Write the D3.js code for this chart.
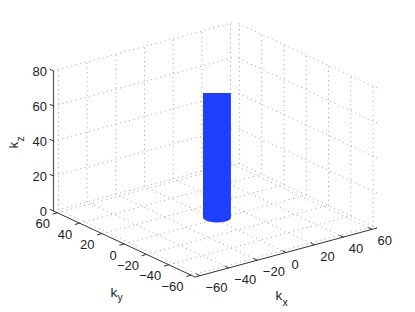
<!DOCTYPE html>
<html><head><meta charset="utf-8">
<script src="https://cdn.jsdelivr.net/npm/d3@7"></script>
<style>html,body{margin:0;padding:0;background:#fff}svg{display:block}</style>
</head><body><div id="c"></div>
<script>
const xTicks=[-60,-40,-20,0,20,40,60];
const yTicks=[-60,-40,-20,0,20,40,60];
const zTicks=[0,20,40,60,80];
const xDomain=[-63.5,63.5];
const yDomain=[-63.5,63.5];
const zDomain=[0,80];
const cylRadius=[7.7];
const cylCentre=[1.2,0];
const cylZ=[0.9,71.5];
const cylTopCut=[72];
const W=415,H=312;
const svg=d3.select('#c').append('svg').attr('width',W).attr('height',H);
// oblique projection: linear scales giving pixel offsets for each data axis
const xPx=d3.scaleLinear().domain(xDomain).range([0,182]);
const xPy=d3.scaleLinear().domain(xDomain).range([0,-49]);
const yPx=d3.scaleLinear().domain(yDomain).range([0,-141.5]);
const yPy=d3.scaleLinear().domain(yDomain).range([0,-66]);
const zPy=d3.scaleLinear().domain(zDomain).range([0,-140]);
const O=[195,277];
const px=(x,y)=>O[0]+xPx(x)+yPx(y);
const py=(x,y,z)=>O[1]+xPy(x)+yPy(y)+zPy(z);
const P=(x,y,z)=>[px(x,y),py(x,y,z)];
const [x0,x1]=xDomain,[y0,y1]=yDomain,[z0,z1]=zDomain;
const line=(g,a,b)=>g.append('line').attr('x1',a[0]).attr('y1',a[1]).attr('x2',b[0]).attr('y2',b[1]);
const grid=svg.append('g').attr('stroke','#8f8f8f').attr('stroke-width',0.85).attr('stroke-dasharray','1 3.6').attr('fill','none');
xTicks.forEach(t=>{line(grid,P(t,y1,z0),P(t,y1,z1));line(grid,P(t,y0,z0),P(t,y1,z0));});
yTicks.forEach(t=>{line(grid,P(x1,t,z0),P(x1,t,z1));line(grid,P(x0,t,z0),P(x1,t,z0));});
zTicks.forEach(t=>{line(grid,P(x0,y1,t),P(x1,y1,t));line(grid,P(x1,y0,t),P(x1,y1,t));});
// cylinder
const ang=d3.range(0,360,4).map(a=>a*Math.PI/180);
const r=cylRadius[0];
const ring=z=>ang.map(a=>P(cylCentre[0]+r*Math.cos(a),cylCentre[1]+r*Math.sin(a),z));
const hull=d3.polygonHull(ring(cylZ[0]).concat(ring(cylZ[1])));
const cut=py(cylCentre[0],cylCentre[1],cylTopCut[0]);
svg.append('clipPath').attr('id','cut').append('rect').attr('x',0).attr('y',cut).attr('width',W).attr('height',H-cut);
svg.append('path').attr('d','M'+hull.join('L')+'Z').attr('fill','#1f3fff').attr('clip-path','url(#cut)');
// axes
const ax=svg.append('g').attr('stroke','#333').attr('stroke-width',1).attr('fill','none');
line(ax,P(x0,y0,z0),P(x1,y0,z0));
line(ax,P(x0,y0,z0),P(x0,y1,z0));
line(ax,P(x0,y1,z0),P(x0,y1,z1)).attr('stroke','#555').attr('stroke-width',1.2);
const tl=3.4;
xTicks.forEach(t=>line(ax,P(t,y0,z0),P(t,y0+tl,z0)));
yTicks.forEach(t=>line(ax,P(x0,t,z0),P(x0-tl,t,z0)));
zTicks.forEach(t=>line(ax,P(x0,y1,t),P(x0,y1+tl,t)));
// labels
const font='"Liberation Sans",Arial,sans-serif';
const txt=svg.append('g').attr('font-family',font).attr('font-size',13).attr('fill','#222');
const fmt=t=>t<0?'\u2212'+(-t):''+t;
const put=(s,x,y,a)=>txt.append('text').attr('x',x).attr('y',y).attr('text-anchor',a).text(s);
zTicks.forEach(t=>put(fmt(t),47,py(x0,y1,t)+4.5,'end'));
xTicks.forEach(t=>put(fmt(t),px(t,y0)+5.5,py(t,y0,z0)+16,'start'));
yTicks.forEach(t=>put(fmt(t),px(x0,t)-7.5,py(x0,t,z0)+15.5,'end'));
const lab=(main,sub,x,y,rot,dy)=>{
  const g=svg.append('g').attr('transform',`translate(${x},${y}) rotate(${rot})`).attr('font-family',font).attr('fill','#222');
  g.append('text').attr('font-size',13.5).text(main);
  g.append('text').attr('x',7).attr('y',dy).attr('font-size',10.5).text(sub);
};
lab('k','z',17.5,148.5,-90,6.5);
lab('k','y',110.5,296.5,0,4.5);
lab('k','x',275.5,300,0,5.5);
</script></body></html>
